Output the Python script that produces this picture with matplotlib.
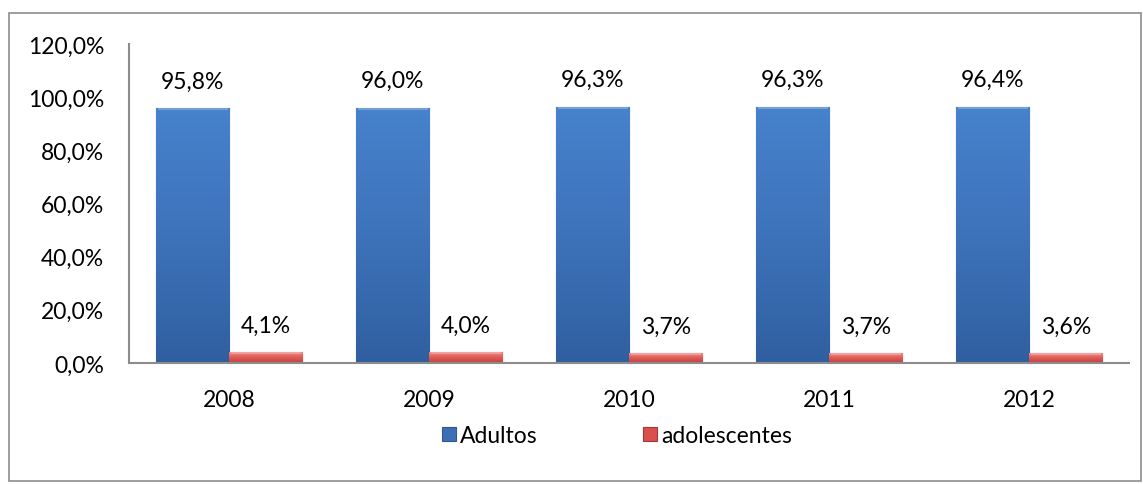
import matplotlib.pyplot as plt
import numpy as np
from matplotlib.patches import Rectangle
from matplotlib.colors import LinearSegmentedColormap

anos = ['2008', '2009', '2010', '2011', '2012']
adultos = [95.8, 96.0, 96.3, 96.3, 96.4]
adolescentes = [4.1, 4.0, 3.7, 3.7, 3.6]
yticks = [0, 20, 40, 60, 80, 100, 120]

plt.rcParams['font.family'] = ['Lato', 'DejaVu Sans']
FS = 16.5

fig = plt.figure(figsize=(11.43, 4.85), dpi=100)
# moldura cinza em volta do grafico
fig.patches.append(Rectangle((0.008, 0.006), 0.99, 0.966, transform=fig.transFigure,
                             fill=False, edgecolor='#8c8c8c', linewidth=1.2))

ax = fig.add_axes([0.1129, 0.2495, 0.875, 0.6577])
x = np.arange(len(anos))
w = 0.365

b1 = ax.bar(x - w / 2, adultos, w, color='#3c70b4', edgecolor='#2d5990', linewidth=0.8,
            label='Adultos')
b2 = ax.bar(x + w / 2, adolescentes, w, color='#d9504c', edgecolor='#a33a36', linewidth=0.8,
            label='adolescentes')

# degradê vertical dentro de cada barra
grad = np.linspace(0, 1, 256).reshape(-1, 1)
cm_azul = LinearSegmentedColormap.from_list('azul', ['#305fa0', '#3d73ba', '#4782cd'])
cm_verm = LinearSegmentedColormap.from_list('verm', ['#c2403c', '#de5a55', '#ee8a86'])
for barras, cm in ((b1, cm_azul), (b2, cm_verm)):
    for r in barras:
        x0, w0, h0 = r.get_x(), r.get_width(), r.get_height()
        im = ax.imshow(grad, cmap=cm, origin='lower', aspect='auto',
                       extent=(x0, x0 + w0, 0, h0), zorder=r.get_zorder() + 0.1)
        im.set_clip_path(r)
        # realce claro no topo (bisel)
        ax.plot([x0 + w0 * 0.02, x0 + w0 * 0.98], [h0, h0], color='#ffffff', lw=3,
                alpha=0.25, solid_capstyle='butt', zorder=r.get_zorder() + 0.2)

def fmt(v):
    return ('%.1f%%' % v).replace('.', ',')

for barras, vals in ((b1, adultos), (b2, adolescentes)):
    for r, v in zip(barras, vals):
        ax.annotate(fmt(v), (r.get_x() + r.get_width() / 2, v), xytext=(0, 12),
                    textcoords='offset points', ha='center', va='bottom', fontsize=FS)

ax.set_xlim(-0.5, len(anos) - 0.5)
ax.set_ylim(0, 120)
ax.set_yticks(yticks)
ax.set_yticklabels([fmt(t) for t in yticks])
ax.set_xticks(x)
ax.set_xticklabels(anos)
ax.tick_params(length=0, labelsize=FS, colors='black')
ax.tick_params(axis='y', pad=18)
ax.tick_params(axis='x', pad=19)
for s in ('top', 'right'):
    ax.spines[s].set_visible(False)
for s in ('left', 'bottom'):
    ax.spines[s].set_color('#8c8c8c')
    ax.spines[s].set_linewidth(1.5)
    ax.spines[s].set_zorder(5)

ax.legend(loc='upper center', bbox_to_anchor=(0.488, -0.13), ncol=2, frameon=False,
          fontsize=FS, handlelength=0.6, handleheight=0.6, handletextpad=0.2,
          columnspacing=4.6)

fig.savefig('out.png', dpi=100)
